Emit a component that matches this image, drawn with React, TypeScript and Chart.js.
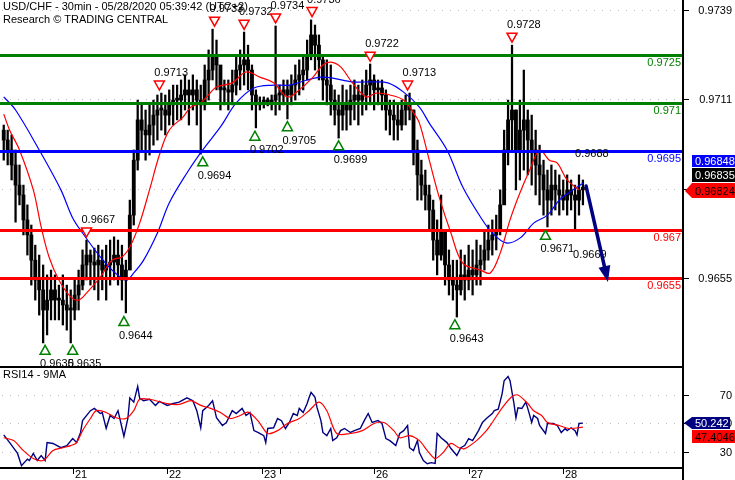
import React, { useEffect, useRef } from 'react';
import { Chart, registerables } from 'chart.js';
Chart.register(...registerables);

const FONT = '11px "Liberation Sans", Arial, Helvetica, sans-serif';

// ---- axis ranges (30-min bar index on x) ----
const X_MIN = -0.9;
const X_MAX = 345.8;
const PRICE_MIN = 0.962758;
const PRICE_MAX = 0.974213;
const RSI_MIN = 19.47;
const RSI_MAX = 89.65;

// ---- hourly candles (bar index = 1 + 2k) ----
const firstOpen = 0.97014;
const highs = [
  0.97030, 0.97014, 0.96999, 0.96952, 0.96905, 0.96842, 0.96780, 0.96717, 0.96654, 0.96623,
  0.96592, 0.96561, 0.96576, 0.96561, 0.96529, 0.96561, 0.96529, 0.96514, 0.96545, 0.96576,
  0.96639, 0.96670, 0.96639, 0.96645, 0.96654, 0.96639, 0.96654, 0.96670, 0.96680, 0.96670,
  0.96654, 0.96607, 0.96795, 0.96952, 0.97108, 0.97093, 0.97077, 0.97093, 0.97108, 0.97124,
  0.97130, 0.97124, 0.97140, 0.97155, 0.97155, 0.97171, 0.97187, 0.97171, 0.97187, 0.97171,
  0.97155, 0.97218, 0.97265, 0.97330, 0.97296, 0.97187, 0.97171, 0.97171, 0.97202, 0.97249,
  0.97265, 0.97321, 0.97280, 0.97218, 0.97140, 0.97118, 0.97118, 0.97115, 0.97124, 0.97340,
  0.97155, 0.97171, 0.97171, 0.97187, 0.97218, 0.97234, 0.97249, 0.97296, 0.97359, 0.97343,
  0.97312, 0.97249, 0.97234, 0.97218, 0.97140, 0.97124, 0.97155, 0.97140, 0.97155, 0.97171,
  0.97155, 0.97171, 0.97202, 0.97221, 0.97187, 0.97171, 0.97171, 0.97140, 0.97108, 0.97108,
  0.97093, 0.97108, 0.97124, 0.97130, 0.97077, 0.96983, 0.96920, 0.96889, 0.96842, 0.96795,
  0.96733, 0.96811, 0.96701, 0.96639, 0.96607, 0.96607, 0.96639, 0.96623, 0.96654, 0.96639,
  0.96670, 0.96654, 0.96701, 0.96717, 0.96733, 0.96748, 0.96827, 0.97014, 0.97108, 0.97280,
  0.97077, 0.97108, 0.97202, 0.97077, 0.97061, 0.97014, 0.96967, 0.96920, 0.96889, 0.96905,
  0.96889, 0.96874, 0.96858, 0.96874, 0.96858, 0.96842, 0.96874, 0.96858,
];
const lows = [
  0.96920, 0.96905, 0.96858, 0.96726, 0.96780, 0.96686, 0.96623, 0.96529, 0.96482, 0.96435,
  0.96348, 0.96373, 0.96420, 0.96420, 0.96420, 0.96404, 0.96388, 0.96348, 0.96420, 0.96451,
  0.96514, 0.96545, 0.96529, 0.96514, 0.96482, 0.96514, 0.96482, 0.96529, 0.96545, 0.96529,
  0.96482, 0.96442, 0.96592, 0.96717, 0.96889, 0.96952, 0.96920, 0.96936, 0.96967, 0.96983,
  0.97014, 0.96999, 0.97030, 0.97030, 0.97046, 0.97046, 0.97077, 0.97030, 0.97077, 0.97030,
  0.96939, 0.97077, 0.97108, 0.97171, 0.97140, 0.97077, 0.97093, 0.97077, 0.97093, 0.97124,
  0.97140, 0.97155, 0.97140, 0.97077, 0.97021, 0.97077, 0.97083, 0.97090, 0.97077, 0.97061,
  0.97077, 0.97093, 0.97049, 0.97093, 0.97108, 0.97124, 0.97140, 0.97171, 0.97234, 0.97202,
  0.97171, 0.97108, 0.97093, 0.97061, 0.97030, 0.96989, 0.97014, 0.97014, 0.97030, 0.97046,
  0.97030, 0.97061, 0.97077, 0.97093, 0.97077, 0.97093, 0.97077, 0.97014, 0.96999, 0.96983,
  0.96983, 0.97014, 0.97030, 0.97046, 0.96905, 0.96795, 0.96795, 0.96764, 0.96701, 0.96607,
  0.96561, 0.96607, 0.96529, 0.96498, 0.96482, 0.96429, 0.96498, 0.96482, 0.96514, 0.96498,
  0.96529, 0.96529, 0.96576, 0.96607, 0.96623, 0.96639, 0.96686, 0.96795, 0.96905, 0.96952,
  0.96827, 0.96858, 0.96889, 0.96874, 0.96842, 0.96811, 0.96780, 0.96748, 0.96711, 0.96748,
  0.96764, 0.96748, 0.96764, 0.96748, 0.96764, 0.96701, 0.96748, 0.96780,
];
const closes = [
  0.96983, 0.96952, 0.96905, 0.96842, 0.96811, 0.96733, 0.96686, 0.96607, 0.96545, 0.96514,
  0.96451, 0.96482, 0.96514, 0.96482, 0.96482, 0.96467, 0.96451, 0.96451, 0.96498, 0.96529,
  0.96592, 0.96623, 0.96601, 0.96592, 0.96607, 0.96576, 0.96592, 0.96601, 0.96623, 0.96592,
  0.96545, 0.96576, 0.96748, 0.96920, 0.97046, 0.97014, 0.96999, 0.97030, 0.97061, 0.97077,
  0.97077, 0.97061, 0.97093, 0.97108, 0.97108, 0.97124, 0.97140, 0.97124, 0.97140, 0.97108,
  0.97093, 0.97171, 0.97202, 0.97249, 0.97218, 0.97140, 0.97140, 0.97133, 0.97155, 0.97202,
  0.97218, 0.97234, 0.97202, 0.97124, 0.97093, 0.97099, 0.97108, 0.97102, 0.97108, 0.97124,
  0.97124, 0.97140, 0.97124, 0.97155, 0.97171, 0.97187, 0.97202, 0.97249, 0.97312, 0.97280,
  0.97234, 0.97171, 0.97155, 0.97108, 0.97077, 0.97061, 0.97093, 0.97077, 0.97108, 0.97124,
  0.97108, 0.97124, 0.97155, 0.97171, 0.97140, 0.97146, 0.97124, 0.97077, 0.97061, 0.97046,
  0.97030, 0.97077, 0.97093, 0.97077, 0.96952, 0.96874, 0.96842, 0.96811, 0.96764, 0.96670,
  0.96623, 0.96701, 0.96592, 0.96545, 0.96529, 0.96514, 0.96561, 0.96545, 0.96576, 0.96561,
  0.96592, 0.96607, 0.96639, 0.96670, 0.96686, 0.96701, 0.96780, 0.96952, 0.97046, 0.97077,
  0.96952, 0.97014, 0.97046, 0.96983, 0.96952, 0.96905, 0.96874, 0.96827, 0.96795, 0.96842,
  0.96827, 0.96811, 0.96795, 0.96827, 0.96811, 0.96795, 0.96827, 0.96835,
];

// ---- moving averages on price: [bar index, value] ----
const redMa = [
  [1, 0.97064], [4, 0.97014], [9, 0.96952], [16, 0.96827], [20, 0.96711], [24, 0.96617],
  [29, 0.96545], [35, 0.96492], [39, 0.96482], [43, 0.96504], [50, 0.96554], [56, 0.96607],
  [61, 0.96617], [65, 0.96648], [70, 0.96723], [75, 0.96827], [80, 0.96936], [85, 0.97014],
  [92, 0.97055], [96, 0.97086], [101, 0.97099], [104, 0.97118], [109, 0.97149], [117, 0.97162],
  [124, 0.97196], [131, 0.97180], [138, 0.97162], [145, 0.97118], [151, 0.97140], [158, 0.97180],
  [163, 0.97218], [167, 0.97227], [172, 0.97212], [178, 0.97162], [185, 0.97118], [190, 0.97130],
  [197, 0.97124], [204, 0.97108], [209, 0.97068], [212, 0.97036], [217, 0.96920], [222, 0.96805],
  [228, 0.96692], [234, 0.96598], [243, 0.96576], [248, 0.96567], [253, 0.96629], [258, 0.96733],
  [263, 0.96817], [268, 0.96889], [273, 0.96952], [278, 0.96920], [282, 0.96911], [287, 0.96858],
  [293, 0.96827],
];
const blueMa = [
  [1, 0.97118], [7, 0.97077], [19, 0.96952], [30, 0.96827], [36, 0.96739], [41, 0.96692],
  [50, 0.96617], [56, 0.96576], [63, 0.96545], [67, 0.96567], [72, 0.96607], [79, 0.96692],
  [85, 0.96786], [94, 0.96880], [102, 0.96952], [111, 0.97024], [119, 0.97099], [128, 0.97146],
  [138, 0.97155], [146, 0.97155], [155, 0.97171], [162, 0.97180], [168, 0.97177], [178, 0.97165],
  [188, 0.97165], [196, 0.97162], [204, 0.97133], [212, 0.97086], [217, 0.97036], [226, 0.96952],
  [234, 0.96836], [243, 0.96742], [249, 0.96692], [256, 0.96661], [263, 0.96676], [270, 0.96723],
  [277, 0.96748], [283, 0.96795], [290, 0.96827], [295, 0.96848],
];

// ---- RSI14 and its 9MA: [bar index, value] ----
const rsi = [
  [1, 42], [4, 36.6], [7, 31], [8, 29], [10, 20.4], [13, 25], [14, 24], [16, 29], [18, 24], [20, 27.5],
  [22, 24], [23, 36.6], [26, 36], [30, 33], [33, 34.5], [36, 39.4], [38, 36.6], [40, 43.7], [41, 52],
  [45, 59], [47, 60.6], [50, 57], [51, 57.7], [53, 46.5], [55, 55.6], [57, 53.5], [59, 59], [61, 47],
  [62, 41], [64, 53.5], [65, 68], [67, 65], [69, 76], [70, 67.6], [72, 66], [75, 67], [78, 62.7],
  [80, 65.5], [84, 62.7], [87, 64], [90, 65], [94, 68], [97, 66], [99, 59], [101, 47], [102, 59],
  [105, 62.7], [107, 66], [109, 54], [112, 48.6], [114, 50.7], [117, 59], [119, 57], [122, 60.6],
  [124, 55.6], [126, 57.7], [128, 45], [130, 43.7], [133, 41.5], [134, 36.6], [135, 46.5], [138, 47],
  [140, 53.5], [142, 52], [144, 46.5], [146, 50.7], [148, 57], [150, 55.6], [151, 60.6], [153, 57.7],
  [155, 64], [156, 68.3], [157, 71.8], [159, 68.3], [160, 61.3], [162, 52], [163, 43.7], [165, 41.5],
  [167, 46.5], [168, 38], [170, 40], [172, 45], [174, 46.5], [177, 43.7], [179, 45], [182, 46.5],
  [184, 52], [186, 57], [188, 50.7], [191, 52], [193, 50], [195, 39.4], [197, 38], [200, 34.5],
  [202, 43], [204, 45], [206, 48.6], [207, 33], [209, 31], [211, 38], [212, 29.6], [214, 24],
  [216, 21.8], [218, 22.5], [220, 22], [221, 43], [223, 40], [226, 36.6], [228, 32.4], [231, 27.5],
  [233, 33], [235, 34.5], [237, 39.4], [239, 38], [242, 45], [244, 50.7], [246, 53.5], [249, 57],
  [250, 59], [252, 60], [254, 71], [255, 80], [257, 83], [258, 80], [260, 64], [261, 54], [262, 61],
  [264, 60.6], [266, 65], [267, 60.6], [269, 50.7], [270, 55.6], [272, 53.5], [273, 48.6], [276, 43],
  [277, 50], [280, 50], [282, 48.6], [284, 43.7], [286, 46.5], [287, 45], [289, 47], [291, 45],
  [292, 42], [293, 50], [295, 50.242],
];
const rsiMa = [
  [1, 40], [6, 38], [11, 31], [16, 25.4], [21, 24], [26, 31], [31, 33], [35, 34.5], [38, 36.6],
  [41, 45], [45, 53.5], [48, 59], [53, 57.7], [58, 54], [63, 53.5], [67, 59], [70, 67], [75, 67],
  [84, 64], [90, 63.4], [96, 66], [101, 62.7], [106, 60.6], [111, 57.7], [116, 53.5], [121, 55.6],
  [125, 58], [130, 52], [135, 43], [140, 45], [145, 50], [151, 53.5], [156, 59], [161, 65],
  [165, 59], [170, 43], [177, 43], [183, 45], [189, 50], [194, 50.7], [199, 45], [202, 40],
  [207, 41.5], [212, 38], [216, 31], [220, 25.4], [224, 29.6], [228, 36], [232, 33], [235, 32.4],
  [241, 38], [246, 45], [249, 50.7], [254, 61], [259, 69], [262, 70], [267, 64], [270, 59],
  [274, 55.6], [277, 50.7], [283, 48.6], [288, 46.5], [295, 47.4046],
];

// ---- support / resistance levels ----
const levelPrices = [0.9725, 0.971, 0.9695, 0.967, 0.9655];
const levelColors = ['#008000', '#008000', '#0000ff', '#ff0000', '#ff0000'];

// ---- swing markers: [bar index, price] ----
const highMarkers = [
  [43, 0.9667], [80, 0.9713], [108, 0.9733], [123, 0.9732], [139, 0.9734],
  [157.5, 0.9736], [187, 0.9722], [206, 0.9713], [259, 0.9728],
];
const lowMarkers = [
  [22, 0.9635], [36, 0.9635], [62, 0.9644], [102, 0.9694], [128.5, 0.9702],
  [145, 0.9705], [171, 0.9699], [230, 0.9643], [276, 0.9671],
];

// ---- forecast arrow and its notes ----
const arrowPts = [[296.6, 0.96839], [307.7, 0.96539]];
const noteIdx = [291, 290];
const noteVal = [0.969284, 0.966138];
const noteText = ['0.9688', '0.9669'];

// ---- axis ticks ----
const priceTicks = [0.9655, 0.9683, 0.9711, 0.9739];
const rsiTicks = [30, 50, 70];
const dayTickIdx = [36, 84, 132, 141, 189, 237, 285];
const dayTickLabels = ['21', '22', '23', '', '26', '27', '28'];

// ---- last-value tags ----
const priceTagVals = [0.968481, 0.96835, 0.96824];
const rsiTagVals = [50.242, 47.4046];

const opens = closes.map((_, k) => (k === 0 ? firstOpen : closes[k - 1]));
const barIdx = closes.map((_, k) => 1 + 2 * k);

const mainPlugin = {
  id: 'mainDecor',
  beforeDatasetsDraw(chart: any) {
    const { ctx, scales, chartArea } = chart;
    ctx.save();
    ctx.fillStyle = '#c0c0c0';
    priceTicks.forEach((v) => {
      const py = Math.round(scales.y.getPixelForValue(v));
      for (let px = 2; px < chartArea.right - 2; px += 8) ctx.fillRect(px, py, 1, 1);
    });
    ctx.restore();
  },
  afterDatasetsDraw(chart: any) {
    const { ctx, scales, chartArea } = chart;
    const X = (v: number) => scales.x.getPixelForValue(v);
    const Y = (v: number) => scales.y.getPixelForValue(v);
    const right = chartArea.right;
    ctx.save();
    ctx.font = FONT;
    ctx.textBaseline = 'alphabetic';

    // title
    ctx.fillStyle = '#000';
    ctx.textAlign = 'left';
    ctx.fillText('USD/CHF - 30min - 05/28/2020 05:39:42 (UTC+2)', 3, 10);
    ctx.fillText('Research \u00A9 TRADING CENTRAL', 3, 23);

    // levels
    levelPrices.forEach((v, i) => {
      const py = Math.round(Y(v));
      ctx.fillStyle = levelColors[i];
      ctx.fillRect(0, py - 1, right - 1, 3);
      ctx.textAlign = 'right';
      ctx.fillText(String(v), right - 2, py + 11);
    });

    // markers
    ctx.lineWidth = 1.5;
    highMarkers.forEach(([i, v]) => {
      const px = X(i), py = Y(v);
      ctx.beginPath();
      ctx.moveTo(px - 5, py - 12);
      ctx.lineTo(px + 5, py - 12);
      ctx.lineTo(px, py - 3);
      ctx.closePath();
      ctx.fillStyle = '#fff';
      ctx.fill();
      ctx.strokeStyle = '#ff0000';
      ctx.stroke();
      ctx.fillStyle = '#000';
      ctx.textAlign = 'left';
      ctx.fillText(v.toFixed(4), px - 5, py - 17);
    });
    lowMarkers.forEach(([i, v]) => {
      const px = X(i), py = Y(v);
      ctx.beginPath();
      ctx.moveTo(px, py + 3);
      ctx.lineTo(px + 5, py + 12);
      ctx.lineTo(px - 5, py + 12);
      ctx.closePath();
      ctx.fillStyle = '#fff';
      ctx.fill();
      ctx.strokeStyle = '#008000';
      ctx.stroke();
      ctx.fillStyle = '#000';
      ctx.textAlign = 'left';
      ctx.fillText(v.toFixed(4), px - 5, py + 25);
    });

    // notes
    ctx.fillStyle = '#000';
    ctx.textAlign = 'left';
    noteText.forEach((t, i) => ctx.fillText(t, X(noteIdx[i]), Y(noteVal[i])));

    // arrow
    const x1 = X(arrowPts[0][0]), y1 = Y(arrowPts[0][1]);
    const x2 = X(arrowPts[1][0]), y2 = Y(arrowPts[1][1]);
    const len = Math.hypot(x2 - x1, y2 - y1);
    const ux = (x2 - x1) / len, uy = (y2 - y1) / len;
    const bx = x2 - ux * 16, by = y2 - uy * 16;
    ctx.strokeStyle = '#000080';
    ctx.fillStyle = '#000080';
    ctx.lineWidth = 3.5;
    ctx.lineCap = 'round';
    ctx.beginPath();
    ctx.moveTo(x1, y1);
    ctx.lineTo(bx + ux * 2, by + uy * 2);
    ctx.stroke();
    ctx.beginPath();
    ctx.moveTo(x2, y2);
    ctx.lineTo(bx - uy * 6, by + ux * 6);
    ctx.lineTo(bx + uy * 6, by - ux * 6);
    ctx.closePath();
    ctx.fill();

    // right axis
    ctx.fillStyle = '#000';
    ctx.fillRect(right - 1, 0, 2, chart.height);
    priceTicks.forEach((v) => {
      const py = Math.round(Y(v));
      ctx.fillRect(right + 1, py, 5, 1);
      ctx.textAlign = 'right';
      ctx.fillText(v.toFixed(4), 732, py + 4);
    });

    // last value tags
    const ty = Math.round(Y(priceTagVals[2]));
    const redTop = ty - 8;
    const blackTop = redTop - 15;
    const blueTop = blackTop - 13;
    ctx.fillStyle = '#0000ff';
    ctx.fillRect(right + 9, blueTop, 60, 12);
    ctx.fillStyle = '#000';
    ctx.fillRect(right + 9, blackTop, 60, 14);
    ctx.fillStyle = '#ff0000';
    ctx.beginPath();
    ctx.moveTo(right + 2, ty);
    ctx.lineTo(right + 9, redTop);
    ctx.lineTo(right + 60, redTop);
    ctx.lineTo(right + 60, redTop + 15);
    ctx.lineTo(right + 9, redTop + 15);
    ctx.closePath();
    ctx.fill();
    ctx.textAlign = 'left';
    ctx.fillStyle = '#fff';
    ctx.fillText(String(priceTagVals[0]), right + 12, blueTop + 10);
    ctx.fillText(String(priceTagVals[1]), right + 12, blackTop + 11);
    ctx.fillStyle = '#000';
    ctx.fillText(String(priceTagVals[2]), right + 12, redTop + 12);
    ctx.restore();
  },
};

const rsiPlugin = {
  id: 'rsiDecor',
  beforeDatasetsDraw(chart: any) {
    const { ctx, scales, chartArea } = chart;
    ctx.save();
    ctx.fillStyle = '#c0c0c0';
    rsiTicks.forEach((v) => {
      const py = Math.round(scales.y.getPixelForValue(v));
      for (let px = 2; px < chartArea.right - 2; px += 8) ctx.fillRect(px, py, 1, 1);
    });
    ctx.restore();
  },
  afterDatasetsDraw(chart: any) {
    const { ctx, scales, chartArea } = chart;
    const X = (v: number) => scales.x.getPixelForValue(v);
    const Y = (v: number) => scales.y.getPixelForValue(v);
    const right = chartArea.right;
    const bottom = chartArea.bottom;
    ctx.save();
    ctx.font = FONT;
    ctx.textBaseline = 'alphabetic';
    ctx.fillStyle = '#000';
    // frame
    ctx.fillRect(0, 0, right, 2);
    ctx.fillRect(0, bottom, right, 2);
    ctx.fillRect(right - 1, 0, 2, chart.height);
    ctx.textAlign = 'left';
    ctx.fillText('RSI14 - 9MA', 3, 12);
    // day ticks
    dayTickIdx.forEach((d, i) => {
      const px = Math.round(X(d));
      ctx.fillRect(px, bottom, 1, 7);
      if (dayTickLabels[i]) ctx.fillText(dayTickLabels[i], px + 2, bottom + 11);
    });
    // y ticks
    rsiTicks.forEach((v) => {
      const py = Math.round(Y(v));
      ctx.fillRect(right + 1, py, 5, 1);
      ctx.textAlign = 'right';
      ctx.fillText(String(v), 732, py + 4);
    });
    // tags
    const ty = Math.round(Y(rsiTagVals[0]));
    const navyTop = ty - 6;
    ctx.fillStyle = '#000080';
    ctx.beginPath();
    ctx.moveTo(right + 1, ty);
    ctx.lineTo(right + 9, navyTop);
    ctx.lineTo(right + 47, navyTop);
    ctx.lineTo(right + 47, navyTop + 12);
    ctx.lineTo(right + 9, navyTop + 12);
    ctx.closePath();
    ctx.fill();
    const redTop = navyTop + 13;
    ctx.fillStyle = '#ff0000';
    ctx.fillRect(right + 9, redTop, 60, 13);
    ctx.textAlign = 'left';
    ctx.fillStyle = '#fff';
    ctx.fillText(String(rsiTagVals[0]), right + 12, navyTop + 10);
    ctx.fillStyle = '#000';
    ctx.fillText(String(rsiTagVals[1]), right + 12, redTop + 11);
    ctx.restore();
  },
};

const yAfterFit = (s: any) => {
  s.width = 52;
  s.paddingTop = 0;
  s.paddingBottom = 0;
  s.paddingLeft = 0;
  s.paddingRight = 0;
};

export default function App() {
  const mainRef = useRef<HTMLCanvasElement>(null);
  const rsiRef = useRef<HTMLCanvasElement>(null);

  useEffect(() => {
    document.body.style.margin = '0';
    const main = new Chart(mainRef.current as HTMLCanvasElement, {
      type: 'bar',
      data: {
        datasets: [
          {
            type: 'line',
            label: 'MA fast',
            data: redMa.map(([x, y]) => ({ x, y })),
            borderColor: '#ff0000',
            borderWidth: 1.2,
            pointRadius: 0,
            tension: 0.35,
            order: 1,
          } as any,
          {
            type: 'line',
            label: 'MA slow',
            data: blueMa.map(([x, y]) => ({ x, y })),
            borderColor: '#0000ff',
            borderWidth: 1.2,
            pointRadius: 0,
            tension: 0.35,
            order: 2,
          } as any,
          {
            type: 'bar',
            label: 'body',
            data: barIdx.map((x, k) => ({ x, y: [opens[k], closes[k]] })),
            backgroundColor: '#000',
            borderWidth: 0,
            barThickness: 3.2,
            minBarLength: 2,
            grouped: false,
            order: 3,
          } as any,
          {
            type: 'bar',
            label: 'wick',
            data: barIdx.map((x, k) => ({ x, y: [lows[k], highs[k]] })),
            backgroundColor: '#000',
            barThickness: 1.6,
            grouped: false,
            order: 4,
          } as any,
        ],
      },
      options: {
        responsive: false,
        maintainAspectRatio: false,
        animation: false,
        devicePixelRatio: 1,
        events: [],
        layout: { padding: 0 },
        plugins: { legend: { display: false }, tooltip: { enabled: false } },
        scales: {
          x: { type: 'linear', min: X_MIN, max: X_MAX, display: false, offset: false },
          y: {
            type: 'linear',
            position: 'right',
            min: PRICE_MIN,
            max: PRICE_MAX,
            afterFit: yAfterFit,
            ticks: { display: false },
            grid: { display: false },
            border: { display: false },
          },
        },
      } as any,
      plugins: [mainPlugin],
    });

    const rsiChart = new Chart(rsiRef.current as HTMLCanvasElement, {
      type: 'line',
      data: {
        datasets: [
          {
            label: '9MA',
            data: rsiMa.map(([x, y]) => ({ x, y })),
            borderColor: '#ff0000',
            borderWidth: 1.2,
            pointRadius: 0,
            tension: 0.3,
            order: 1,
          },
          {
            label: 'RSI14',
            data: rsi.map(([x, y]) => ({ x, y })),
            borderColor: '#000080',
            borderWidth: 1.4,
            pointRadius: 0,
            tension: 0,
            order: 2,
          },
        ],
      },
      options: {
        responsive: false,
        maintainAspectRatio: false,
        animation: false,
        devicePixelRatio: 1,
        events: [],
        layout: { padding: { top: 1, bottom: 13, left: 0, right: 0 } },
        plugins: { legend: { display: false }, tooltip: { enabled: false } },
        scales: {
          x: { type: 'linear', min: X_MIN, max: X_MAX, display: false },
          y: {
            type: 'linear',
            position: 'right',
            min: RSI_MIN,
            max: RSI_MAX,
            afterFit: yAfterFit,
            ticks: { display: false },
            grid: { display: false },
            border: { display: false },
          },
        },
      } as any,
      plugins: [rsiPlugin],
    });

    return () => {
      main.destroy();
      rsiChart.destroy();
    };
  }, []);

  return (
    <div style={{ position: 'relative', width: 735, height: 480, background: '#fff' }}>
      <canvas ref={mainRef} width={735} height={366} style={{ position: 'absolute', left: 0, top: 0 }} />
      <canvas ref={rsiRef} width={735} height={114} style={{ position: 'absolute', left: 0, top: 366 }} />
    </div>
  );
}
